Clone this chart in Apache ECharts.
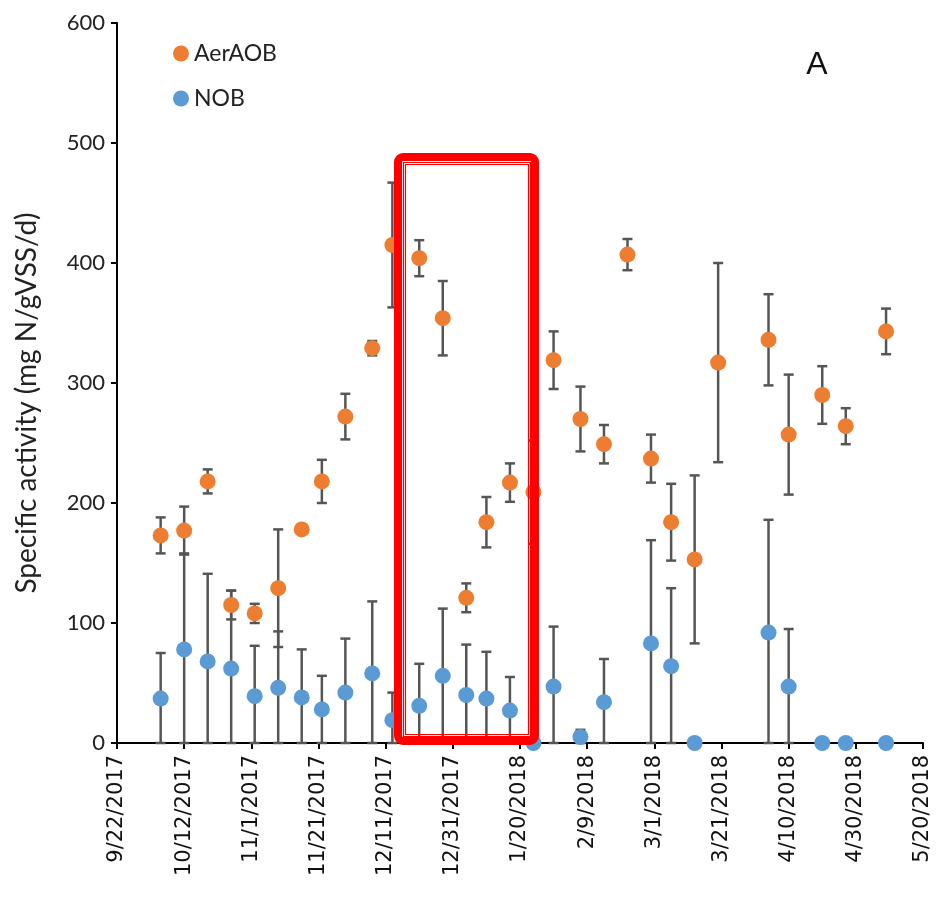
<!DOCTYPE html>
<html>
<head>
<meta charset="utf-8">
<script src="https://cdn.jsdelivr.net/npm/echarts@6/dist/echarts.min.js"></script>
<style>
html,body{margin:0;padding:0;background:#fff;}
#chart{width:942px;height:907px;}
</style>
</head>
<body>
<div id="chart"></div>
<script>
// sampling dates
var sampleDates = ['2017-10-05','2017-10-12','2017-10-19','2017-10-26','2017-11-02','2017-11-09','2017-11-16','2017-11-22','2017-11-29','2017-12-07',
	'2017-12-13','2017-12-21','2017-12-28','2018-01-04','2018-01-10','2018-01-17','2018-01-24','2018-01-30','2018-02-07','2018-02-14',
	'2018-02-21','2018-02-28','2018-03-06','2018-03-13','2018-03-20','2018-04-04','2018-04-10','2018-04-20','2018-04-27','2018-05-09'];
var aerAOB    = [173,177,218,115,108,129,178,218,272,329, 415,404,354,121,184,217,209,319,270,249, 407,237,184,153,317,336,257,290,264,343];
var aerAOBErr = [15,20,10,12,8,49,3,18,19,6, 52,15,31,12,21,16,43,24,27,16, 13,20,32,70,83,38,50,24,15,19];
var nob       = [37,78,68,62,39,46,38,28,42,58, 19,31,56,40,37,27,0,47,5,34, null,83,64,0,null,92,47,0,0,0];
var nobErr    = [38,80,73,65,42,47,40,28,45,60, 23,35,56,42,39,28,0,50,6,36, null,86,65,0,null,94,48,0,0,0];

var startDay = Date.UTC(2017,8,22);
var DAY = 86400000;
function dayOf(s){
	var p = s.split('-');
	return Math.round((Date.UTC(+p[0],+p[1]-1,+p[2]) - startDay)/DAY);
}
function dateLabel(v){
	var d = new Date(startDay + v*DAY);
	return (d.getUTCMonth()+1)+'/'+d.getUTCDate()+'/'+d.getUTCFullYear();
}

var aerPts=[], aerBars=[], nobPts=[], nobBars=[];
for(var i=0;i<sampleDates.length;i++){
	var x = dayOf(sampleDates[i]);
	aerPts.push([x, aerAOB[i]]);
	if(aerAOBErr[i]) aerBars.push([x, Math.max(0,aerAOB[i]-aerAOBErr[i]), aerAOB[i]+aerAOBErr[i]]);
	if(nob[i]!==null){
		nobPts.push([x, nob[i]]);
		if(nobErr[i]) nobBars.push([x, Math.max(0,nob[i]-nobErr[i]), nob[i]+nobErr[i]]);
	}
}

function errorBar(params, api){
	var lo = api.coord([api.value(0), api.value(1)]);
	var hi = api.coord([api.value(0), api.value(2)]);
	var w = 5;
	var st = {stroke:'#555555', lineWidth:2.5};
	return {
		type:'group',
		children:[
			{type:'line', shape:{x1:hi[0],y1:hi[1],x2:lo[0],y2:lo[1]}, style:st},
			{type:'line', shape:{x1:hi[0]-w,y1:hi[1],x2:hi[0]+w,y2:hi[1]}, style:st},
			{type:'line', shape:{x1:lo[0]-w,y1:lo[1],x2:lo[0]+w,y2:lo[1]}, style:st}
		]
	};
}

var chart = echarts.init(document.getElementById('chart'));
var option = {
	backgroundColor:'#fff',
	animation:false,
	grid:{left:117, right:19, top:23, bottom:164},
	legend:{
		orient:'vertical',
		left:168, top:37,
		icon:'circle',
		itemWidth:16, itemHeight:16,
		itemGap:22,
		data:['AerAOB','NOB'],
		textStyle:{fontFamily:'Lato', fontSize:23, color:'#222'}
	},
	xAxis:{
		type:'value',
		min:0, max:240, interval:20,
		splitLine:{show:false},
		axisLine:{lineStyle:{color:'#000', width:2}},
		axisTick:{lineStyle:{color:'#000', width:2}, length:6},
		axisLabel:{
			rotate:90,
			formatter:dateLabel,
			fontFamily:'DejaVu Sans', fontSize:21, color:'#111', margin:12
		}
	},
	yAxis:{
		type:'value',
		min:0, max:600, interval:100,
		splitLine:{show:false},
		axisLine:{show:true, lineStyle:{color:'#000', width:2}},
		axisTick:{show:true, lineStyle:{color:'#000', width:2}, length:6},
		axisLabel:{fontFamily:'Lato', fontSize:22, color:'#222', margin:12}
	},
	graphic:[
		{type:'text', x:27, y:403, rotation:Math.PI/2,
			style:{text:'Specific activity (mg N/gVSS/d)', fontFamily:'Lato', fontSize:28, fill:'#222', textAlign:'center', textVerticalAlign:'middle'}},
		{type:'text', x:817, y:65, style:{text:'A', fontFamily:'Liberation Sans', fontSize:32, fill:'#111', textAlign:'center', textVerticalAlign:'middle'}},
		{type:'rect', shape:{x:398, y:157, width:137, height:584, r:5}, style:{fill:null, stroke:'#ff0000', lineWidth:8}, z:100},
		{type:'rect', shape:{x:403.5, y:162.5, width:127, height:574}, style:{fill:null, stroke:'#ff0000', lineWidth:1.2}, z:100},
		{type:'rect', shape:{x:405.5, y:164.5, width:123, height:570}, style:{fill:null, stroke:'#ff0000', lineWidth:1.2}, z:100}
	],
	series:[
		{name:'AerAOB err', type:'custom', renderItem:errorBar, data:aerBars, z:1, encode:{x:0,y:[1,2]}},
		{name:'NOB err', type:'custom', renderItem:errorBar, data:nobBars, z:1, encode:{x:0,y:[1,2]}},
		{name:'AerAOB', type:'scatter', symbolSize:16, data:aerPts, z:3, itemStyle:{color:'#ED7D31', opacity:1}},
		{name:'NOB', type:'scatter', symbolSize:16, data:nobPts, z:3, itemStyle:{color:'#5B9BD5', opacity:1}}
	]
};
chart.setOption(option);
</script>
</body>
</html>
